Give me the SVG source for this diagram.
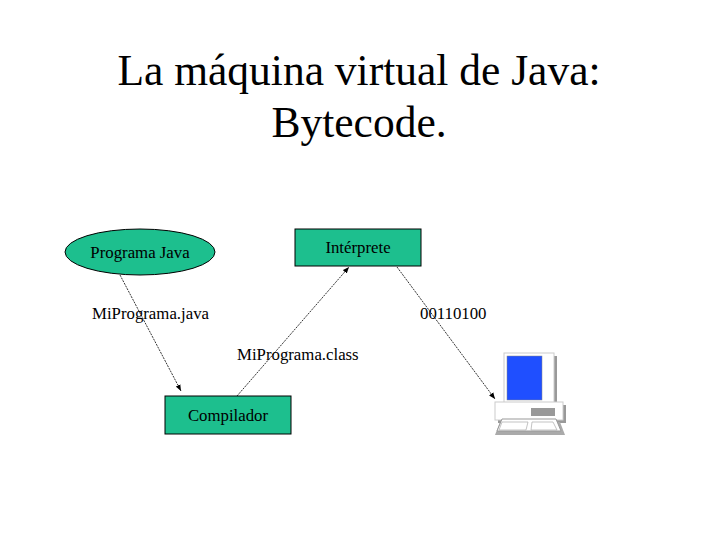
<svg xmlns="http://www.w3.org/2000/svg" width="720" height="540" viewBox="0 0 720 540">
<style>
.t{font-family:"Liberation Serif",serif;fill:#000}
.s{font-size:16.8px}
.n{fill:#1dbf8e;stroke:#000;stroke-width:1}
.c{stroke:#000;stroke-width:0.8;stroke-dasharray:2,1;fill:none;marker-end:url(#a)}
</style>
<defs><marker id="a" viewBox="0 0 10 10" refX="10" refY="5" markerWidth="8" markerHeight="8" orient="auto"><path d="M0,1 L10,5 L0,9 z" fill="#000"/></marker></defs>
<rect width="720" height="540" fill="#fff"/>
<text class="t" x="359" y="85" font-size="43.5" text-anchor="middle">La máquina virtual de Java:</text>
<text class="t" x="359" y="137" font-size="43.5" text-anchor="middle">Bytecode.</text>
<g id="connectors">
<line class="c" x1="120" y1="275" x2="181" y2="391"/>
<line class="c" x1="237" y1="396" x2="349" y2="267"/>
<line class="c" x1="397" y1="267" x2="495" y2="399"/>
</g>
<g id="programa"><ellipse class="n" cx="140" cy="252" rx="75" ry="23"/><text class="t s" x="140" y="258" text-anchor="middle">Programa Java</text></g>
<g id="interprete"><rect class="n" x="295" y="229" width="126" height="37"/><text class="t s" x="358" y="253" text-anchor="middle">Intérprete</text></g>
<g id="compilador"><rect class="n" x="165" y="396" width="126" height="38"/><text class="t s" x="228" y="421" text-anchor="middle">Compilador</text></g>
<text class="t s" x="92" y="319">MiPrograma.java</text>
<text class="t s" x="237" y="360">MiPrograma.class</text>
<text class="t s" x="420" y="319">00110100</text>
<g id="computer">
<rect x="507" y="356" width="50" height="50" fill="#999"/>
<rect x="504" y="353" width="50" height="50" fill="#fff" stroke="#ccc"/>
<rect x="507" y="356" width="35" height="44" fill="#1f4fff" stroke="#888" stroke-width="0.5"/>
<rect x="498" y="405" width="68" height="18" fill="#999"/>
<rect x="495" y="402" width="68" height="18" fill="#fff" stroke="#ccc"/>
<rect x="531" y="408" width="24" height="8" fill="#999"/>
<path d="M500,422 L560,422 L565,435 L495,435 Z" fill="#aaa"/>
<path d="M502,419 L556,419 L561,431 L497,431 Z" fill="#fff" stroke="#999"/>
<path d="M502,422 L528,422 L526,430 L499,430 Z" fill="none" stroke="#aaa" stroke-width="0.7"/>
<path d="M532,422 L553,422 L557,430 L531,430 Z" fill="none" stroke="#aaa" stroke-width="0.7"/>
</g>
</svg>
